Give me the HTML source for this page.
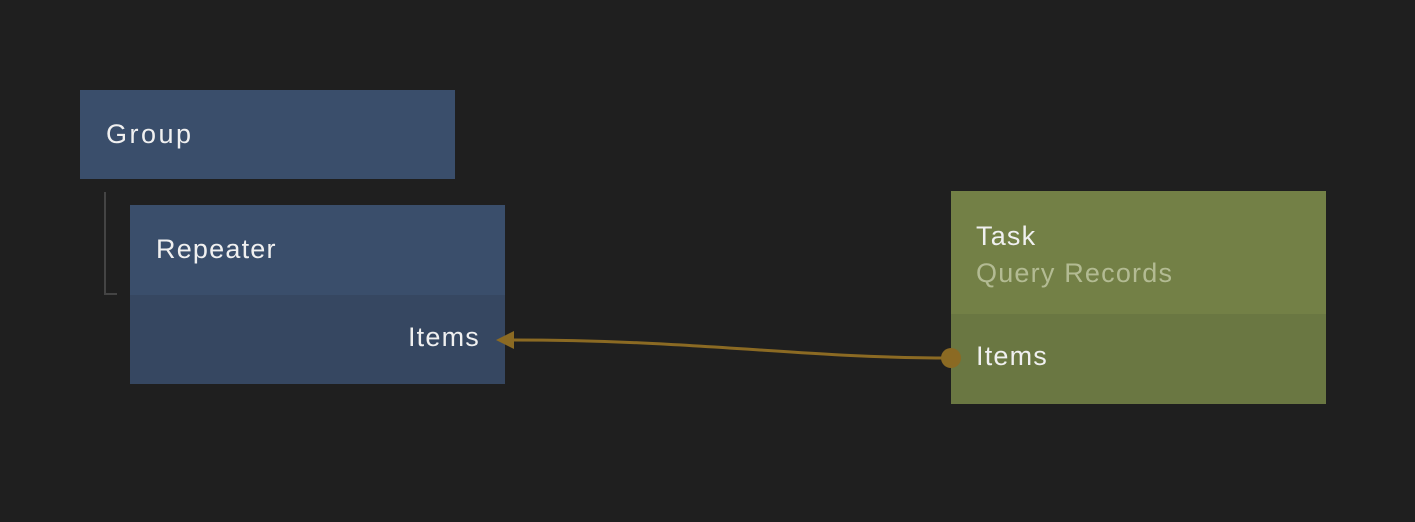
<!DOCTYPE html>
<html><head><style>
body{margin:0;width:1415px;height:522px;background:#1f1f1f;position:relative;overflow:hidden;font-family:"Liberation Sans",sans-serif;}
.b{position:absolute;}
.t{position:absolute;color:#f0f0f0;font-size:27px;letter-spacing:1.2px;white-space:nowrap;line-height:1;}
</style></head><body>
<div class="b" style="left:80px;top:90px;width:375px;height:89px;background:#3a4e6b"></div>
<div class="t" style="left:106px;top:121px;letter-spacing:2.5px">Group</div>
<div class="b" style="left:104px;top:192px;width:13px;height:103px;border-left:2px solid #444;border-bottom:2px solid #444;box-sizing:border-box"></div>
<div class="b" style="left:130px;top:205px;width:375px;height:90px;background:#3a4e6b"></div>
<div class="b" style="left:130px;top:295px;width:375px;height:89px;background:#364761"></div>
<div class="t" style="left:156px;top:236px">Repeater</div>
<div class="t" style="right:935px;top:324px">Items</div>
<div class="b" style="left:951px;top:191px;width:375px;height:123px;background:#738046"></div>
<div class="b" style="left:951px;top:314px;width:375px;height:90px;background:#6a7742"></div>
<div class="t" style="left:976px;top:223px">Task</div>
<div class="t" style="left:976px;top:260px;color:#b3bb93">Query Records</div>
<div class="t" style="left:976px;top:343px">Items</div>
<svg class="b" style="left:0;top:0" width="1415" height="522">
<path d="M951,358 C800,358 700,340 512,340" fill="none" stroke="#8b6a23" stroke-width="3"/>
<polygon points="496,340 514,331 514,349" fill="#8b6a23"/>
<circle cx="951" cy="358" r="10" fill="#8b6a23"/>
</svg>
</body></html>
